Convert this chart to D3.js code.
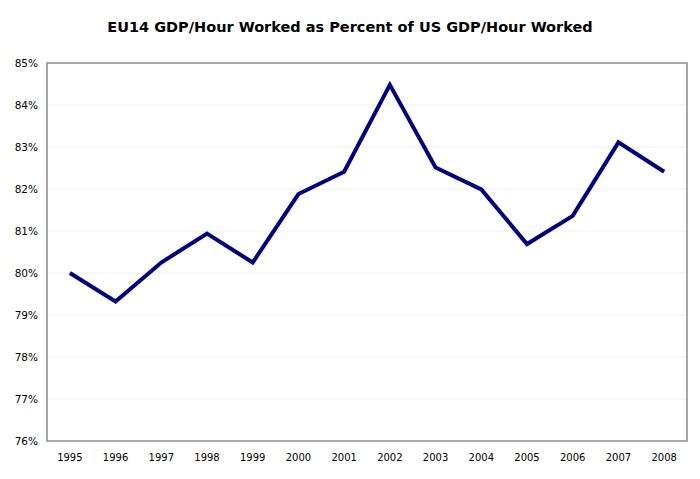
<!DOCTYPE html>
<html>
<head>
<meta charset="utf-8">
<script src="https://cdn.jsdelivr.net/npm/d3@7"></script>
<style>
  body { margin: 0; background: #fff; }
  svg { display: block; font-family: "DejaVu Sans", Verdana, sans-serif; }
</style>
</head>
<body>
<svg id="chart" width="700" height="479"></svg>
<script>
// Chart data
const years = ["1995", "1996", "1997", "1998", "1999", "2000", "2001",
               "2002", "2003", "2004", "2005", "2006", "2007", "2008"];
const ratio = [80.0, 79.32, 80.25, 80.94, 80.25, 81.88, 82.41,
               84.48, 82.51, 81.99, 80.69, 81.36, 83.11, 82.41];
const yTicks = [76, 77, 78, 79, 80, 81, 82, 83, 84, 85];
const title = "EU14 GDP/Hour Worked as Percent of US GDP/Hour Worked";

const svg = d3.select("#chart");
const margin = { top: 63, right: 13, bottom: 38, left: 47 };
const width = 700 - margin.left - margin.right;
const height = 479 - margin.top - margin.bottom;

const x = d3.scaleBand().domain(years).range([0, width]);
const y = d3.scaleLinear().domain([76, 85]).range([height, 0]);

// Title
svg.append("text")
  .attr("x", 350)
  .attr("y", 32)
  .attr("text-anchor", "middle")
  .attr("font-size", 14.5)
  .attr("font-weight", "bold")
  .attr("fill", "#000")
  .text(title);

const g = svg.append("g").attr("transform", `translate(${margin.left},${margin.top})`);

// faint gridlines
g.append("g")
  .selectAll("line")
  .data(yTicks.slice(1, -1))
  .join("line")
  .attr("x1", 0)
  .attr("x2", width)
  .attr("y1", d => y(d))
  .attr("y2", d => y(d))
  .attr("stroke", "#f0f0f0")
  .attr("stroke-width", 1);

// y axis labels
const yAxis = g.append("g")
  .call(d3.axisLeft(y).tickValues(yTicks).tickSize(0).tickPadding(9).tickFormat(d => d + "%"));
yAxis.select(".domain").remove();
yAxis.selectAll("text").attr("font-size", 10.5).attr("fill", "#000").attr("font-family", "DejaVu Sans, sans-serif");

// x axis labels
const xAxis = g.append("g")
  .attr("transform", `translate(0,${height})`)
  .call(d3.axisBottom(x).tickSize(0).tickPadding(13));
xAxis.select(".domain").remove();
xAxis.selectAll("text").attr("font-size", 10).attr("fill", "#000").attr("font-family", "DejaVu Sans, sans-serif");

// plot frame
g.append("rect")
  .attr("x", 0)
  .attr("y", 0)
  .attr("width", width)
  .attr("height", height)
  .attr("fill", "none")
  .attr("stroke", "#8c8c8c")
  .attr("stroke-width", 1.5);

// data line
const line = d3.line()
  .x((d, i) => x(years[i]) + x.bandwidth() / 2)
  .y(d => y(d));

g.append("path")
  .datum(ratio)
  .attr("d", line)
  .attr("fill", "none")
  .attr("stroke", "#000080")
  .attr("stroke-width", 4)
  .attr("stroke-linejoin", "miter");
</script>
</body>
</html>
